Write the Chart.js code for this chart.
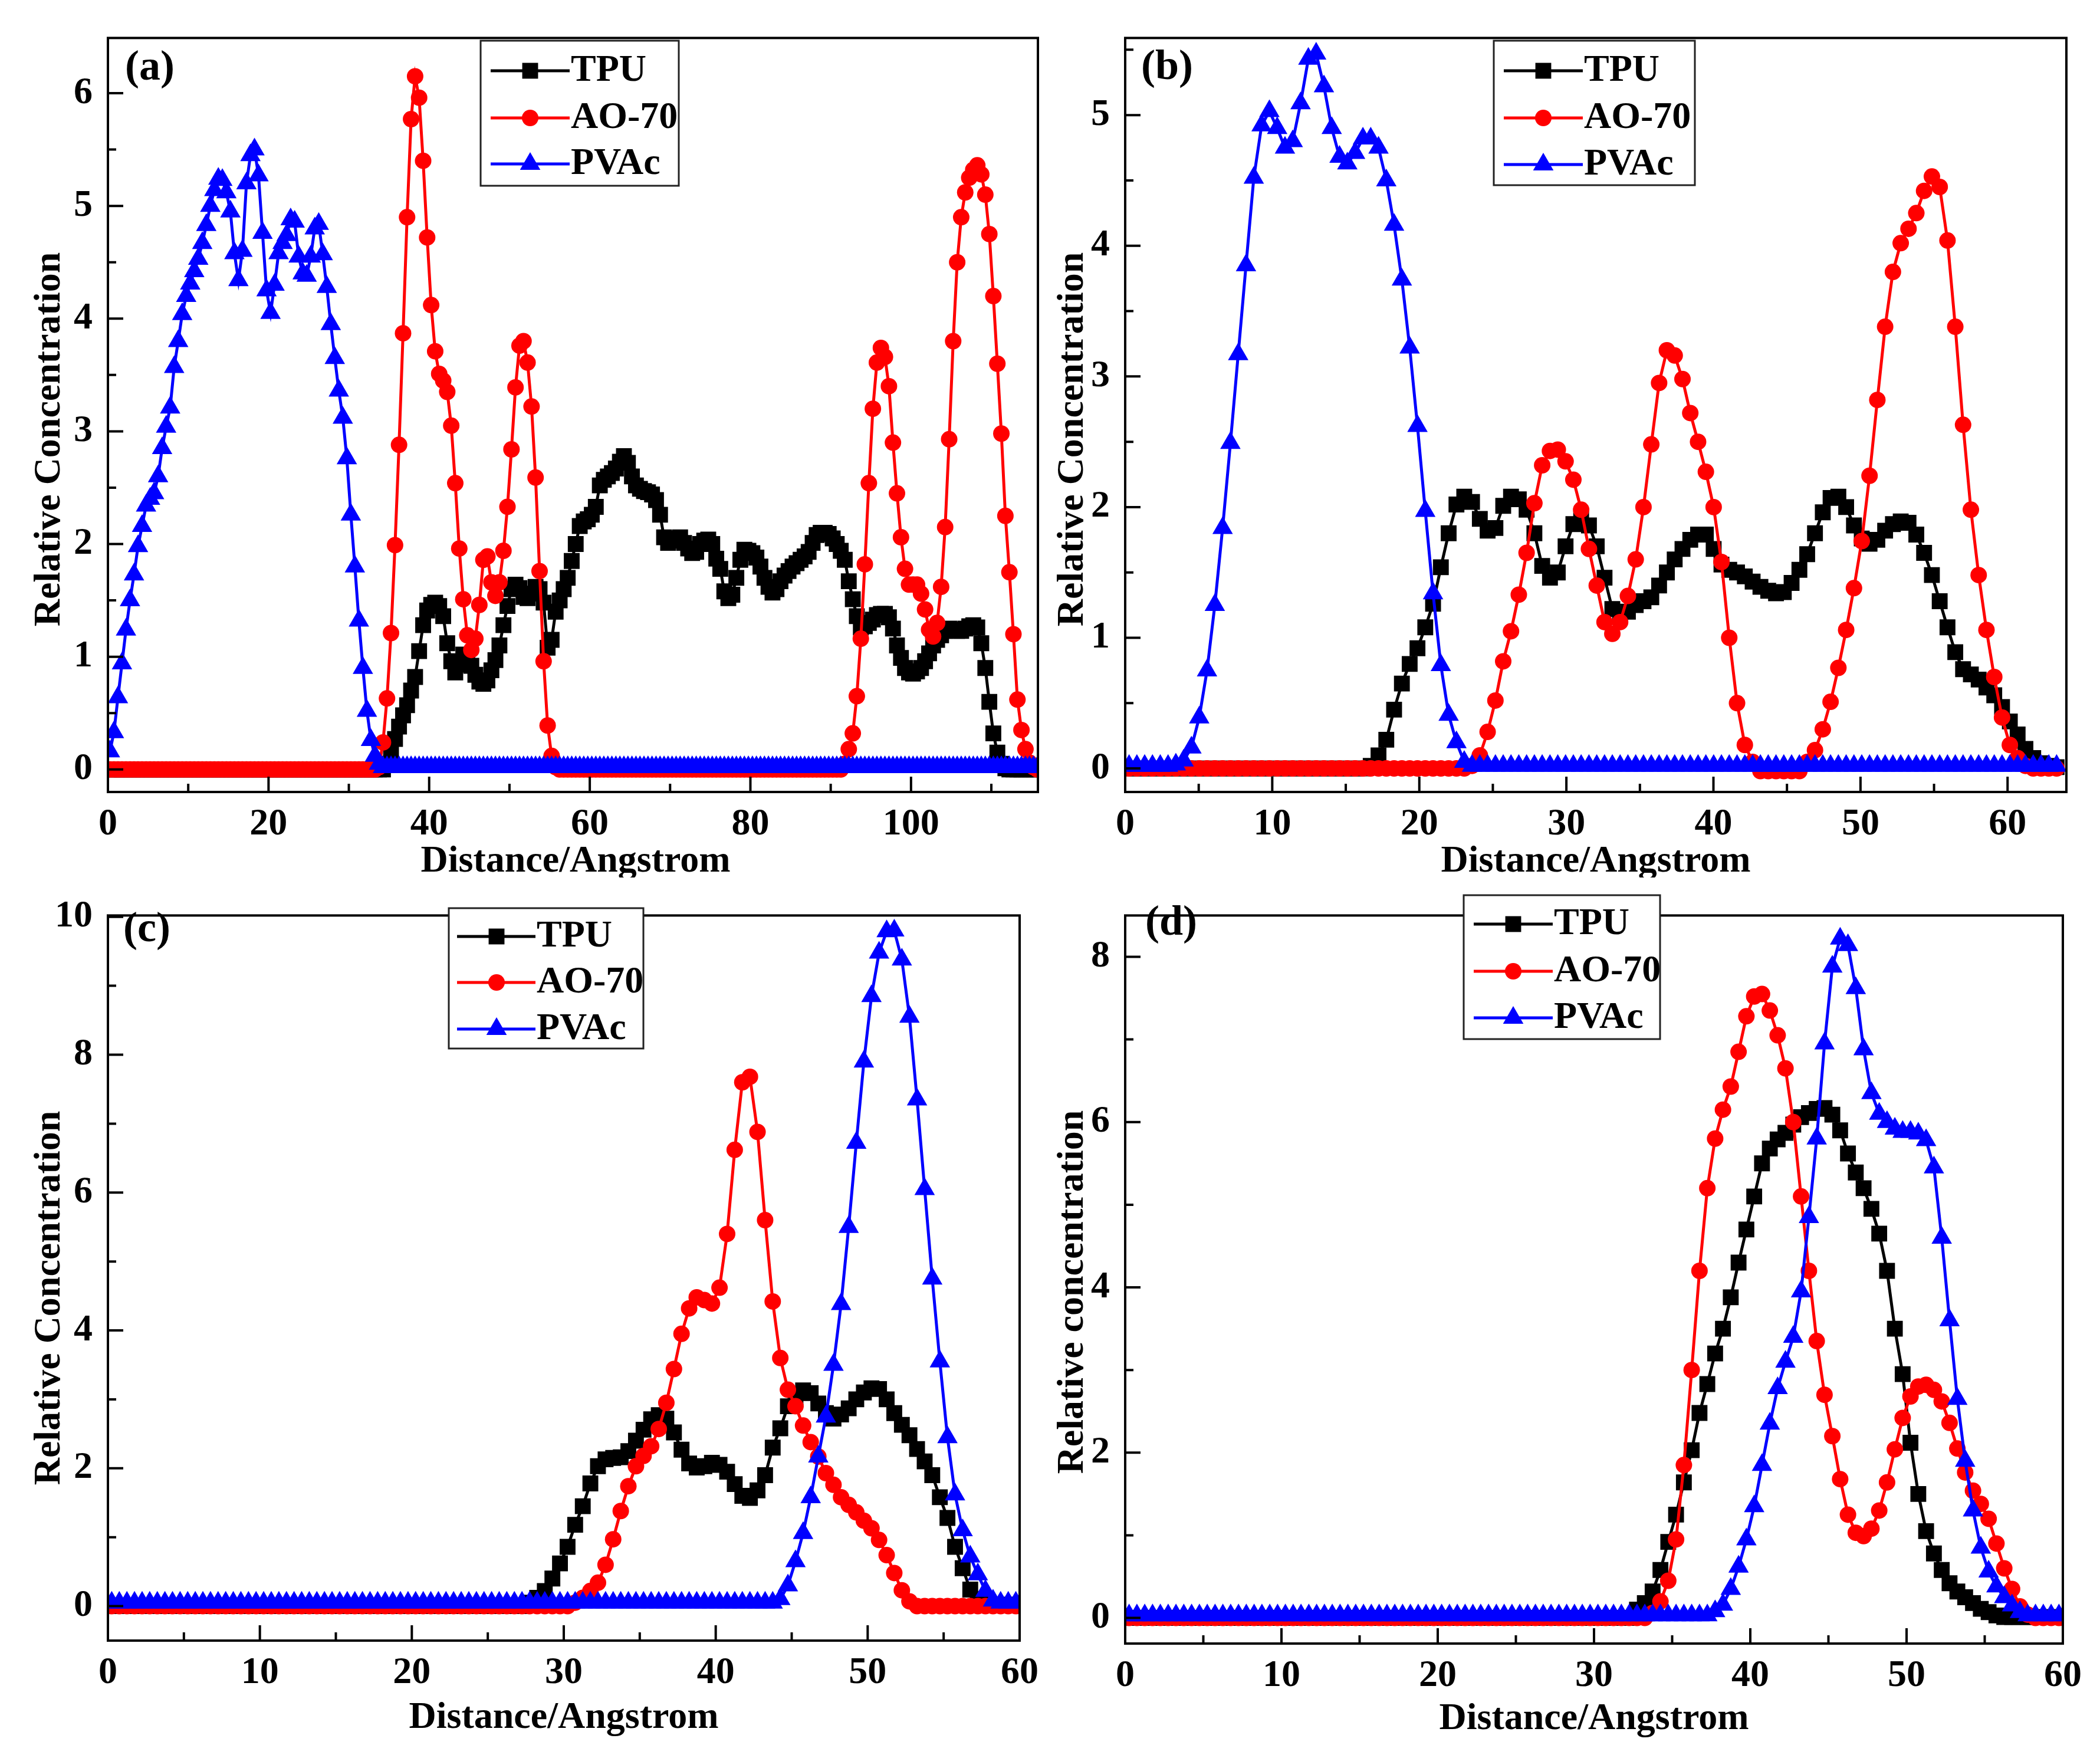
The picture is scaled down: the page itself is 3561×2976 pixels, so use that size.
<!DOCTYPE html>
<html>
<head>
<meta charset="utf-8">
<title>Concentration profiles</title>
<script src="https://cdn.jsdelivr.net/npm/chart.js@4/dist/chart.umd.min.js"></script>
<style>
  html, body { margin: 0; padding: 0; background: #fff; }
  body { width: 3561px; height: 2976px; position: relative; overflow: hidden; }
  canvas { position: absolute; }
</style>
</head>
<body>
<canvas id="pa"></canvas>
<canvas id="pb"></canvas>
<canvas id="pc"></canvas>
<canvas id="pd"></canvas>
<script>
// ---------- panel (a): bins of 0.5 A starting at 0.25 ----------
const tpuA = [
  0,0,0,0,0,0,0,0,0,0, 0,0,0,0,0,0,0,0,0,0, 0,0,0,0,0,0,0,0,0,0,
  0,0,0,0,0,0,0,0,0,0, 0,0,0,0,0,0,0,0,0,0, 0,0,0,0,0,0,0,0,0,0,
  0,0,0,0,0,0,0,0,0,0.05,
  0.15,0.27,0.38,0.48,0.57,0.7,0.82,1.05,1.28,1.41,
  1.46,1.48,1.45,1.36,1.12,0.96,0.86,0.93,1.02,1.0,
  0.92,0.84,0.78,0.76,0.79,0.88,0.97,1.1,1.28,1.45,
  1.6,1.64,1.61,1.53,1.52,1.56,1.62,1.6,1.48,1.08,
  1.15,1.4,1.5,1.6,1.7,1.85,2.0,2.16,2.2,2.22,
  2.26,2.33,2.52,2.57,2.6,2.63,2.67,2.73,2.78,2.72,
  2.6,2.52,2.49,2.47,2.46,2.44,2.39,2.26,2.06,2.01,
  2.03,2.05,2.06,2.01,1.96,1.92,1.93,2.0,2.03,2.04,
  2.0,1.87,1.78,1.58,1.52,1.55,1.7,1.86,1.95,1.94,
  1.92,1.88,1.8,1.7,1.62,1.57,1.6,1.67,1.72,1.76,
  1.8,1.83,1.86,1.89,1.93,2.01,2.08,2.1,2.1,2.09,
  2.05,2.0,1.94,1.86,1.67,1.51,1.36,1.26,1.27,1.3,
  1.33,1.37,1.38,1.38,1.35,1.25,1.1,0.99,0.9,0.86,
  0.85,0.87,0.9,0.96,1.03,1.1,1.15,1.19,1.23,1.25,
  1.24,1.23,1.23,1.25,1.27,1.28,1.26,1.12,0.9,0.6,
  0.32,0.15,0.05,0.01,0,0,0,0,0,0,
  0,0
];
const aoA = [
  0,0,0,0,0,0,0,0,0,0, 0,0,0,0,0,0,0,0,0,0, 0,0,0,0,0,0,0,0,0,0,
  0,0,0,0,0,0,0,0,0,0, 0,0,0,0,0,0,0,0,0,0, 0,0,0,0,0,0,0,0,0,0,
  0,0,0,0,0,0,0,0.02,0.24,0.63,
  1.21,1.99,2.88,3.87,4.9,5.77,6.15,5.96,5.4,4.72,
  4.12,3.71,3.51,3.45,3.35,3.05,2.54,1.96,1.51,1.19,
  1.06,1.16,1.46,1.86,1.89,1.66,1.54,1.66,1.94,2.33,
  2.84,3.39,3.76,3.8,3.61,3.22,2.59,1.76,0.96,0.39,
  0.12,0.02,0,0,0,0,0,0,0,0,
  0,0,0,0,0,0,0,0,0,0, 0,0,0,0,0,0,0,0,0,0, 0,0,0,0,0,0,0,0,0,0,
  0,0,0,0,0,0,0,0,0,0, 0,0,0,0,0,0,0,0,0,0, 0,0,0,0,0,0,0,0,0,0,
  0,0,0,0.05,0.18,0.32,0.65,1.16,1.82,2.54,
  3.2,3.61,3.74,3.66,3.4,2.9,2.45,2.06,1.78,1.64,
  1.64,1.64,1.56,1.42,1.24,1.18,1.3,1.62,2.15,2.93,
  3.8,4.5,4.9,5.12,5.25,5.32,5.36,5.28,5.1,4.75,
  4.2,3.6,2.98,2.25,1.75,1.2,0.62,0.35,0.18,0.06,
  0.02,0
];
const pvacA = [
  0.16,0.33,0.64,0.94,1.24,1.5,1.73,1.98,2.16,2.34,
  2.4,2.45,2.6,2.85,3.04,3.21,3.57,3.8,4.04,4.2,
  4.31,4.42,4.53,4.67,4.83,5.0,5.14,5.24,5.23,5.12,
  4.95,4.58,4.34,4.6,5.2,5.45,5.5,5.27,4.76,4.25,
  4.05,4.3,4.58,4.67,4.74,4.88,4.86,4.55,4.4,4.38,
  4.55,4.8,4.84,4.57,4.28,3.95,3.65,3.36,3.12,2.76,
  2.26,1.8,1.32,0.9,0.52,0.26,0.12,0.05,0.02,0.02,
  0.02,0.02,0.02,0.02,0.02,0.02,0.02,0.02,0.02,0.02,
  0.02,0.02,0.02,0.02,0.02,0.02,0.02,0.02,0.02,0.02,
  0.02,0.02,0.02,0.02,0.02,0.02,0.02,0.02,0.02,0.02,
  0.02,0.02,0.02,0.02,0.02,0.02,0.02,0.02,0.02,0.02,
  0.02,0.02,0.02,0.02,0.02,0.02,0.02,0.02,0.02,0.02,
  0.02,0.02,0.02,0.02,0.02,0.02,0.02,0.02,0.02,0.02,
  0.02,0.02,0.02,0.02,0.02,0.02,0.02,0.02,0.02,0.02,
  0.02,0.02,0.02,0.02,0.02,0.02,0.02,0.02,0.02,0.02,
  0.02,0.02,0.02,0.02,0.02,0.02,0.02,0.02,0.02,0.02,
  0.02,0.02,0.02,0.02,0.02,0.02,0.02,0.02,0.02,0.02,
  0.02,0.02,0.02,0.02,0.02,0.02,0.02,0.02,0.02,0.02,
  0.02,0.02,0.02,0.02,0.02,0.02,0.02,0.02,0.02,0.02,
  0.02,0.02,0.02,0.02,0.02,0.02,0.02,0.02,0.02,0.02,
  0.02,0.02,0.02,0.02,0.02,0.02,0.02,0.02,0.02,0.02,
  0.02,0.02,0.02,0.02,0.02,0.02,0.02,0.02,0.02,0.02,
  0.02,0.02,0.02,0.02,0.02,0.02,0.02,0.02,0.02,0.02,
  0.02,0.02
];
const xTicksA = [0, 20, 40, 60, 80, 100];
const xMinorA = [10, 30, 50, 70, 90, 110];
const yTicksA = [0, 1, 2, 3, 4, 5, 6];
const yMinorA = [0.5, 1.5, 2.5, 3.5, 4.5, 5.5];

// ---------- panel (b): bins of 0.53 A starting at 0.265 ----------
const tpuB = [
  0,0,0,0,0,0,0,0,0,0, 0,0,0,0,0,0,0,0,0,0, 0,0,0,0,0,0,0,0,0,0,
  0,0.02,0.1,0.22,0.45,0.65,0.8,0.92,1.08,1.26,
  1.54,1.8,2.02,2.08,2.04,1.91,1.82,1.84,2.01,2.08,
  2.06,1.98,1.8,1.55,1.46,1.5,1.7,1.87,1.91,1.86,
  1.7,1.46,1.22,1.17,1.2,1.25,1.28,1.31,1.4,1.5,
  1.6,1.68,1.75,1.79,1.79,1.68,1.56,1.52,1.5,1.47,
  1.43,1.39,1.36,1.34,1.35,1.42,1.52,1.64,1.8,1.96,
  2.07,2.08,2.0,1.86,1.76,1.72,1.75,1.82,1.87,1.89,
  1.88,1.79,1.65,1.48,1.28,1.08,0.89,0.76,0.72,0.68,
  0.62,0.56,0.47,0.36,0.26,0.15,0.08,0.04,0.02,0.01
];
const aoB = [
  0,0,0,0,0,0,0,0,0,0, 0,0,0,0,0,0,0,0,0,0,
  0,0,0,0,0,0,0,0,0,0, 0,0,0,0,0,0,0,0,0,0,
  0,0,0,0,0.02,0.1,0.28,0.52,0.82,1.05,
  1.33,1.65,2.03,2.32,2.43,2.44,2.35,2.21,1.98,1.68,
  1.4,1.12,1.03,1.12,1.32,1.6,2.0,2.48,2.95,3.2,
  3.16,2.98,2.72,2.5,2.27,2.0,1.58,1.0,0.5,0.18,
  0.05,-0.02,-0.02,-0.02,-0.02,-0.02,-0.02,0.05,0.14,0.3,
  0.51,0.77,1.06,1.38,1.74,2.24,2.82,3.38,3.8,4.02,
  4.13,4.25,4.42,4.53,4.45,4.04,3.38,2.63,1.98,1.48,
  1.06,0.7,0.39,0.18,0.08,0.02,0,0,0,0
];
const pvacB = [
  0.02,0.02,0.02,0.02,0.02,0.02,0.03,0.06,0.16,0.39,
  0.75,1.25,1.84,2.49,3.17,3.85,4.52,4.92,5.03,4.9,
  4.75,4.8,5.09,5.43,5.47,5.22,4.9,4.68,4.63,4.71,
  4.82,4.82,4.75,4.5,4.16,3.74,3.22,2.62,1.97,1.34,
  0.79,0.41,0.2,0.05,0.02,0.02,0.02,0.02,0.02,0.02,
  0.02,0.02,0.02,0.02,0.02,0.02,0.02,0.02,0.02,0.02,
  0.02,0.02,0.02,0.02,0.02,0.02,0.02,0.02,0.02,0.02,
  0.02,0.02,0.02,0.02,0.02,0.02,0.02,0.02,0.02,0.02,
  0.02,0.02,0.02,0.02,0.02,0.02,0.02,0.02,0.02,0.02,
  0.02,0.02,0.02,0.02,0.02,0.02,0.02,0.02,0.02,0.02,
  0.02,0.02,0.02,0.02,0.02,0.02,0.02,0.02,0.02,0.02,
  0.02,0.02,0.02,0.02,0.02,0.02,0.02,0.02,0.02,0.02
];
const xTicksB = [0, 10, 20, 30, 40, 50, 60];
const xMinorB = [5, 15, 25, 35, 45, 55];
const yTicksB = [0, 1, 2, 3, 4, 5];
const yMinorB = [0.5, 1.5, 2.5, 3.5, 4.5, 5.5];

// ---------- panel (c): bins of 0.5 A starting at 0.25 ----------
const tpuC = [
  0,0,0,0,0,0,0,0,0,0, 0,0,0,0,0,0,0,0,0,0, 0,0,0,0,0,0,0,0,0,0,
  0,0,0,0,0,0,0,0,0,0, 0,0,0,0,0,0,0,0,0,0,
  0,0,0,0,0,0.05,0.12,0.22,0.4,0.62,
  0.86,1.18,1.45,1.78,2.03,2.13,2.15,2.16,2.25,2.4,
  2.56,2.71,2.77,2.72,2.52,2.27,2.07,2.01,2.03,2.08,
  2.05,1.95,1.77,1.6,1.57,1.68,1.9,2.3,2.58,2.9,
  3.03,3.13,3.09,2.94,2.8,2.72,2.78,2.87,3.0,3.1,
  3.16,3.15,3.0,2.8,2.63,2.48,2.28,2.1,1.9,1.58,
  1.28,0.86,0.55,0.24,0.1,0.04,0.02,0.02,0.02,0.02
];
const aoC = [
  0,0,0,0,0,0,0,0,0,0, 0,0,0,0,0,0,0,0,0,0, 0,0,0,0,0,0,0,0,0,0,
  0,0,0,0,0,0,0,0,0,0, 0,0,0,0,0,0,0,0,0,0, 0,0,0,0,0,0,0,0,0,0,
  0,0.05,0.12,0.22,0.34,0.6,0.97,1.38,1.74,2.03,
  2.18,2.32,2.57,2.95,3.44,3.95,4.32,4.48,4.44,4.39,
  4.62,5.4,6.62,7.6,7.68,6.88,5.6,4.42,3.6,3.14,
  2.9,2.62,2.38,2.17,1.93,1.76,1.58,1.47,1.36,1.24,
  1.13,0.96,0.74,0.48,0.23,0.07,0,0,0,0,
  0,0,0,0,0,0,0,0,0,0
];
const pvacC = [
  0.05,0.05,0.05,0.05,0.05,0.05,0.05,0.05,0.05,0.05,
  0.05,0.05,0.05,0.05,0.05,0.05,0.05,0.05,0.05,0.05,
  0.05,0.05,0.05,0.05,0.05,0.05,0.05,0.05,0.05,0.05,
  0.05,0.05,0.05,0.05,0.05,0.05,0.05,0.05,0.05,0.05,
  0.05,0.05,0.05,0.05,0.05,0.05,0.05,0.05,0.05,0.05,
  0.05,0.05,0.05,0.05,0.05,0.05,0.05,0.05,0.05,0.05,
  0.05,0.05,0.05,0.05,0.05,0.05,0.05,0.05,0.05,0.05,
  0.05,0.05,0.05,0.05,0.05,0.05,0.05,0.05,0.05,0.05,
  0.05,0.05,0.05,0.05,0.05,0.05,0.05,0.05,0.1,0.3,
  0.65,1.06,1.58,2.17,2.75,3.5,4.38,5.5,6.72,7.9,
  8.85,9.48,9.79,9.8,9.38,8.55,7.35,6.05,4.75,3.55,
  2.45,1.62,1.1,0.72,0.46,0.22,0.08,0.05,0.05,0.05
];
const xTicksC = [0, 10, 20, 30, 40, 50, 60];
const xMinorC = [5, 15, 25, 35, 45, 55];
const yTicksC = [0, 2, 4, 6, 8, 10];
const yMinorC = [1, 3, 5, 7, 9];

// ---------- panel (d): bins of 0.5 A starting at 0.25 ----------
const tpuD = [
  0,0,0,0,0,0,0,0,0,0, 0,0,0,0,0,0,0,0,0,0, 0,0,0,0,0,0,0,0,0,0,
  0,0,0,0,0,0,0,0,0,0, 0,0,0,0,0,0,0,0,0,0, 0,0,0,0,0,0,0,0,0,0,
  0,0,0,0,0,0.1,0.18,0.32,0.58,0.92,
  1.25,1.64,2.03,2.48,2.83,3.2,3.5,3.88,4.3,4.7,
  5.1,5.5,5.68,5.79,5.87,5.97,6.06,6.11,6.16,6.17,
  6.09,5.9,5.62,5.39,5.2,4.95,4.65,4.2,3.5,2.95,
  2.12,1.5,1.05,0.78,0.58,0.42,0.32,0.25,0.18,0.11,
  0.07,0.03,0.01,0.01,0.01,0.01,0.01,0.01,0.01,0.01
];
const aoD = [
  0,0,0,0,0,0,0,0,0,0, 0,0,0,0,0,0,0,0,0,0, 0,0,0,0,0,0,0,0,0,0,
  0,0,0,0,0,0,0,0,0,0, 0,0,0,0,0,0,0,0,0,0, 0,0,0,0,0,0,0,0,0,0,
  0,0,0,0,0,0,0,0.06,0.2,0.45,
  0.95,1.85,3.0,4.2,5.2,5.8,6.15,6.43,6.85,7.28,
  7.52,7.55,7.35,7.05,6.65,6.0,5.1,4.2,3.35,2.7,
  2.2,1.68,1.25,1.03,0.99,1.08,1.3,1.64,2.04,2.42,
  2.68,2.8,2.82,2.76,2.62,2.36,2.05,1.76,1.54,1.38,
  1.2,0.9,0.6,0.35,0.14,0.04,0,0,0,0
];
const pvacD = [
  0.03,0.03,0.03,0.03,0.03,0.03,0.03,0.03,0.03,0.03,
  0.03,0.03,0.03,0.03,0.03,0.03,0.03,0.03,0.03,0.03,
  0.03,0.03,0.03,0.03,0.03,0.03,0.03,0.03,0.03,0.03,
  0.03,0.03,0.03,0.03,0.03,0.03,0.03,0.03,0.03,0.03,
  0.03,0.03,0.03,0.03,0.03,0.03,0.03,0.03,0.03,0.03,
  0.03,0.03,0.03,0.03,0.03,0.03,0.03,0.03,0.03,0.03,
  0.03,0.03,0.03,0.03,0.03,0.03,0.03,0.03,0.03,0.03,
  0.03,0.03,0.03,0.03,0.03,0.08,0.16,0.35,0.62,0.95,
  1.35,1.85,2.35,2.78,3.1,3.4,3.95,4.85,5.8,6.95,
  7.88,8.22,8.14,7.62,6.88,6.35,6.1,6.0,5.92,5.88,
  5.88,5.86,5.78,5.45,4.6,3.6,2.65,1.9,1.3,0.85,
  0.56,0.38,0.25,0.15,0.07,0.03,0.03,0.03,0.03,0.03
];
const xTicksD = [0, 10, 20, 30, 40, 50, 60];
const xMinorD = [5, 15, 25, 35, 45, 55];
const yTicksD = [0, 2, 4, 6, 8];
const yMinorD = [1, 3, 5, 7];

const FONT = "'Liberation Serif', 'Times New Roman', serif";

// draw a marker the way the library does it (fallback if helpers missing)
function marker(ctx, style, r, x, y) {
  if (Chart.helpers && Chart.helpers.drawPoint) {
    Chart.helpers.drawPoint(ctx, { pointStyle: style, radius: r, rotation: 0, borderWidth: 0 }, x, y);
    return;
  }
  ctx.beginPath();
  if (style === 'rect') { const s = r * Math.SQRT1_2; ctx.rect(x - s, y - s, 2 * s, 2 * s); }
  else if (style === 'triangle') {
    ctx.moveTo(x, y - r);
    ctx.lineTo(x + r * 0.866, y + r / 2);
    ctx.lineTo(x - r * 0.866, y + r / 2);
    ctx.closePath();
  } else ctx.arc(x, y, r, 0, Math.PI * 2);
  ctx.fill();
}

function makePanel(p) {
  const canvas = document.getElementById(p.id);
  canvas.width = p.w; canvas.height = p.h;
  canvas.style.left = p.ox + 'px'; canvas.style.top = p.oy + 'px';
  canvas.style.width = p.w + 'px'; canvas.style.height = p.h + 'px';

  const dist = p.tpu.map((_, i) => +(p.start + p.bin * i).toFixed(3));
  const series = [
    { label: 'TPU',   data: p.tpu,  color: '#000000', style: 'rect',     r: 19, order: 3 },
    { label: 'AO-70', data: p.ao,   color: '#ff0000', style: 'circle',   r: 14, order: 2 },
    { label: 'PVAc',  data: p.pvac, color: '#0000ff', style: 'triangle', r: 20, order: 1 }
  ];
  const tickFont = { family: FONT, size: 64, weight: 'bold' };

  const decor = {
    id: 'decor',
    afterDraw(chart) {
      const ctx = chart.ctx, a = chart.chartArea;
      const sx = chart.scales.x, sy = chart.scales.y;
      ctx.save();
      // inward ticks
      ctx.strokeStyle = '#000';
      ctx.lineWidth = 4;
      ctx.beginPath();
      p.xTicks.forEach(v => { const q = sx.getPixelForValue(v); ctx.moveTo(q, a.bottom); ctx.lineTo(q, a.bottom - 26); });
      p.xMinor.forEach(v => { const q = sx.getPixelForValue(v); ctx.moveTo(q, a.bottom); ctx.lineTo(q, a.bottom - 14); });
      p.yTicks.forEach(v => { const q = sy.getPixelForValue(v); ctx.moveTo(a.left, q); ctx.lineTo(a.left + 26, q); });
      p.yMinor.forEach(v => { const q = sy.getPixelForValue(v); ctx.moveTo(a.left, q); ctx.lineTo(a.left + 14, q); });
      ctx.stroke();
      // frame
      ctx.strokeRect(a.left, a.top, a.right - a.left, a.bottom - a.top);

      // legend
      const L = p.legend;
      ctx.fillStyle = '#fff';
      ctx.fillRect(L.box[0] - p.ox, L.box[1] - p.oy, L.box[2] - L.box[0], L.box[3] - L.box[1]);
      ctx.strokeStyle = '#222';
      ctx.lineWidth = 3;
      ctx.strokeRect(L.box[0] - p.ox, L.box[1] - p.oy, L.box[2] - L.box[0], L.box[3] - L.box[1]);
      ctx.font = 'bold 64px ' + FONT;
      ctx.textBaseline = 'middle';
      ctx.textAlign = 'left';
      series.forEach((s, k) => {
        const y = L.rows[k] - p.oy;
        ctx.strokeStyle = s.color;
        ctx.lineWidth = 5;
        ctx.beginPath();
        ctx.moveTo(L.line[0] - p.ox, y);
        ctx.lineTo(L.line[1] - p.ox, y);
        ctx.stroke();
        ctx.fillStyle = s.color;
        marker(ctx, s.style, s.r, L.mark - p.ox, y);
        ctx.fillStyle = '#000';
        ctx.fillText(s.label, L.text - p.ox, y);
      });

      // panel letter
      ctx.fillStyle = '#000';
      ctx.textAlign = 'center';
      ctx.font = 'bold 72px ' + FONT;
      ctx.fillText(p.letter, p.letterPos[0] - p.ox, p.letterPos[1] - p.oy);

      // axis titles
      ctx.font = 'bold 64px ' + FONT;
      ctx.fillText('Distance/Angstrom', p.xTitle[0] - p.ox, p.xTitle[1] - p.oy);
      ctx.translate(p.yTitle[0] - p.ox, p.yTitle[1] - p.oy);
      ctx.rotate(-Math.PI / 2);
      ctx.fillText(p.yTitleText, 0, 0);
      ctx.restore();
    }
  };

  new Chart(canvas, {
    type: 'line',
    data: {
      labels: dist,
      datasets: series.map(s => ({
        label: s.label,
        data: s.data,
        borderColor: s.color,
        backgroundColor: s.color,
        borderWidth: 5,
        pointStyle: s.style,
        pointRadius: s.r,
        pointHoverRadius: s.r,
        pointBackgroundColor: s.color,
        pointBorderWidth: 0,
        tension: 0,
        fill: false,
        order: s.order
      }))
    },
    options: {
      responsive: false,
      animation: false,
      devicePixelRatio: 1,
      events: [],
      layout: { padding: { left: 0, bottom: 0, top: p.area[1] - p.oy, right: p.ox + p.w - p.area[2] } },
      scales: {
        x: {
          type: 'linear', position: 'bottom', min: 0, max: p.xMax,
          grid: { display: false, drawTicks: false },
          border: { display: false },
          ticks: { font: tickFont, color: '#000', padding: 17, maxRotation: 0, minRotation: 0, autoSkip: false },
          afterBuildTicks: s => { s.ticks = p.xTicks.map(v => ({ value: v })); },
          afterFit: s => { s.height = p.oy + p.h - p.area[3]; }
        },
        y: {
          type: 'linear', position: 'left', min: p.yMin, max: p.yMax,
          grid: { display: false, drawTicks: false },
          border: { display: false },
          ticks: { font: tickFont, color: '#000', padding: 26, autoSkip: false },
          afterBuildTicks: s => { s.ticks = p.yTicks.map(v => ({ value: v })); },
          afterFit: s => { s.width = p.area[0] - p.ox; }
        }
      },
      plugins: { legend: { display: false }, tooltip: { enabled: false } }
    },
    plugins: [decor]
  });
}

makePanel({
  id: 'pa', ox: 0, oy: 0, w: 1780, h: 1488, area: [183, 57, 1769, 1343],
  tpu: tpuA, ao: aoA, pvac: pvacA, start: 0.25, bin: 0.5,
  xMax: 115.8, yMin: -0.2, yMax: 6.49,
  xTicks: xTicksA, xMinor: xMinorA, yTicks: yTicksA, yMinor: yMinorA,
  legend: { box: [815, 69, 1151, 315], rows: [120, 200, 278], line: [832, 966], mark: 899, text: 968 },
  letter: '(a)', letterPos: [254, 116], xTitle: [976, 1461], yTitle: [84, 745],
  yTitleText: 'Relative Concentration'
});
makePanel({
  id: 'pb', ox: 1780, oy: 0, w: 1781, h: 1488, area: [1908, 57, 3504, 1343],
  tpu: tpuB, ao: aoB, pvac: pvacB, start: 0.265, bin: 0.53,
  xMax: 64, yMin: -0.18, yMax: 5.59,
  xTicks: xTicksB, xMinor: xMinorB, yTicks: yTicksB, yMinor: yMinorB,
  legend: { box: [2533, 69, 2874, 314], rows: [120, 200, 279], line: [2550, 2684], mark: 2617, text: 2686 },
  letter: '(b)', letterPos: [1979, 115], xTitle: [2706, 1461], yTitle: [1819, 745],
  yTitleText: 'Relative Concentration'
});
makePanel({
  id: 'pc', ox: 0, oy: 1488, w: 1780, h: 1488, area: [183, 1523, 1729, 2782],
  tpu: tpuC, ao: aoC, pvac: pvacC, start: 0.25, bin: 0.5,
  xMax: 60, yMin: -0.5, yMax: 10.02,
  xTicks: xTicksC, xMinor: xMinorC, yTicks: yTicksC, yMinor: yMinorC,
  legend: { box: [761, 1540, 1091, 1778], rows: [1588, 1666, 1745], line: [775, 908], mark: 842, text: 910 },
  letter: '(c)', letterPos: [249, 1577], xTitle: [956, 2913], yTitle: [84, 2201],
  yTitleText: 'Relative Concentration'
});
makePanel({
  id: 'pd', ox: 1780, oy: 1488, w: 1781, h: 1488, area: [1908, 1507, 3498, 2787],
  tpu: tpuD, ao: aoD, pvac: pvacD, start: 0.25, bin: 0.5,
  xMax: 60, yMin: -0.31, yMax: 8.5,
  xTicks: xTicksD, xMinor: xMinorD, yTicks: yTicksD, yMinor: yMinorD,
  legend: { box: [2482, 1518, 2815, 1762], rows: [1567, 1647, 1726], line: [2499, 2633], mark: 2566, text: 2635 },
  letter: '(d)', letterPos: [1986, 1566], xTitle: [2703, 2915], yTitle: [1819, 2191],
  yTitleText: 'Relative concentration'
});
</script>
</body>
</html>
